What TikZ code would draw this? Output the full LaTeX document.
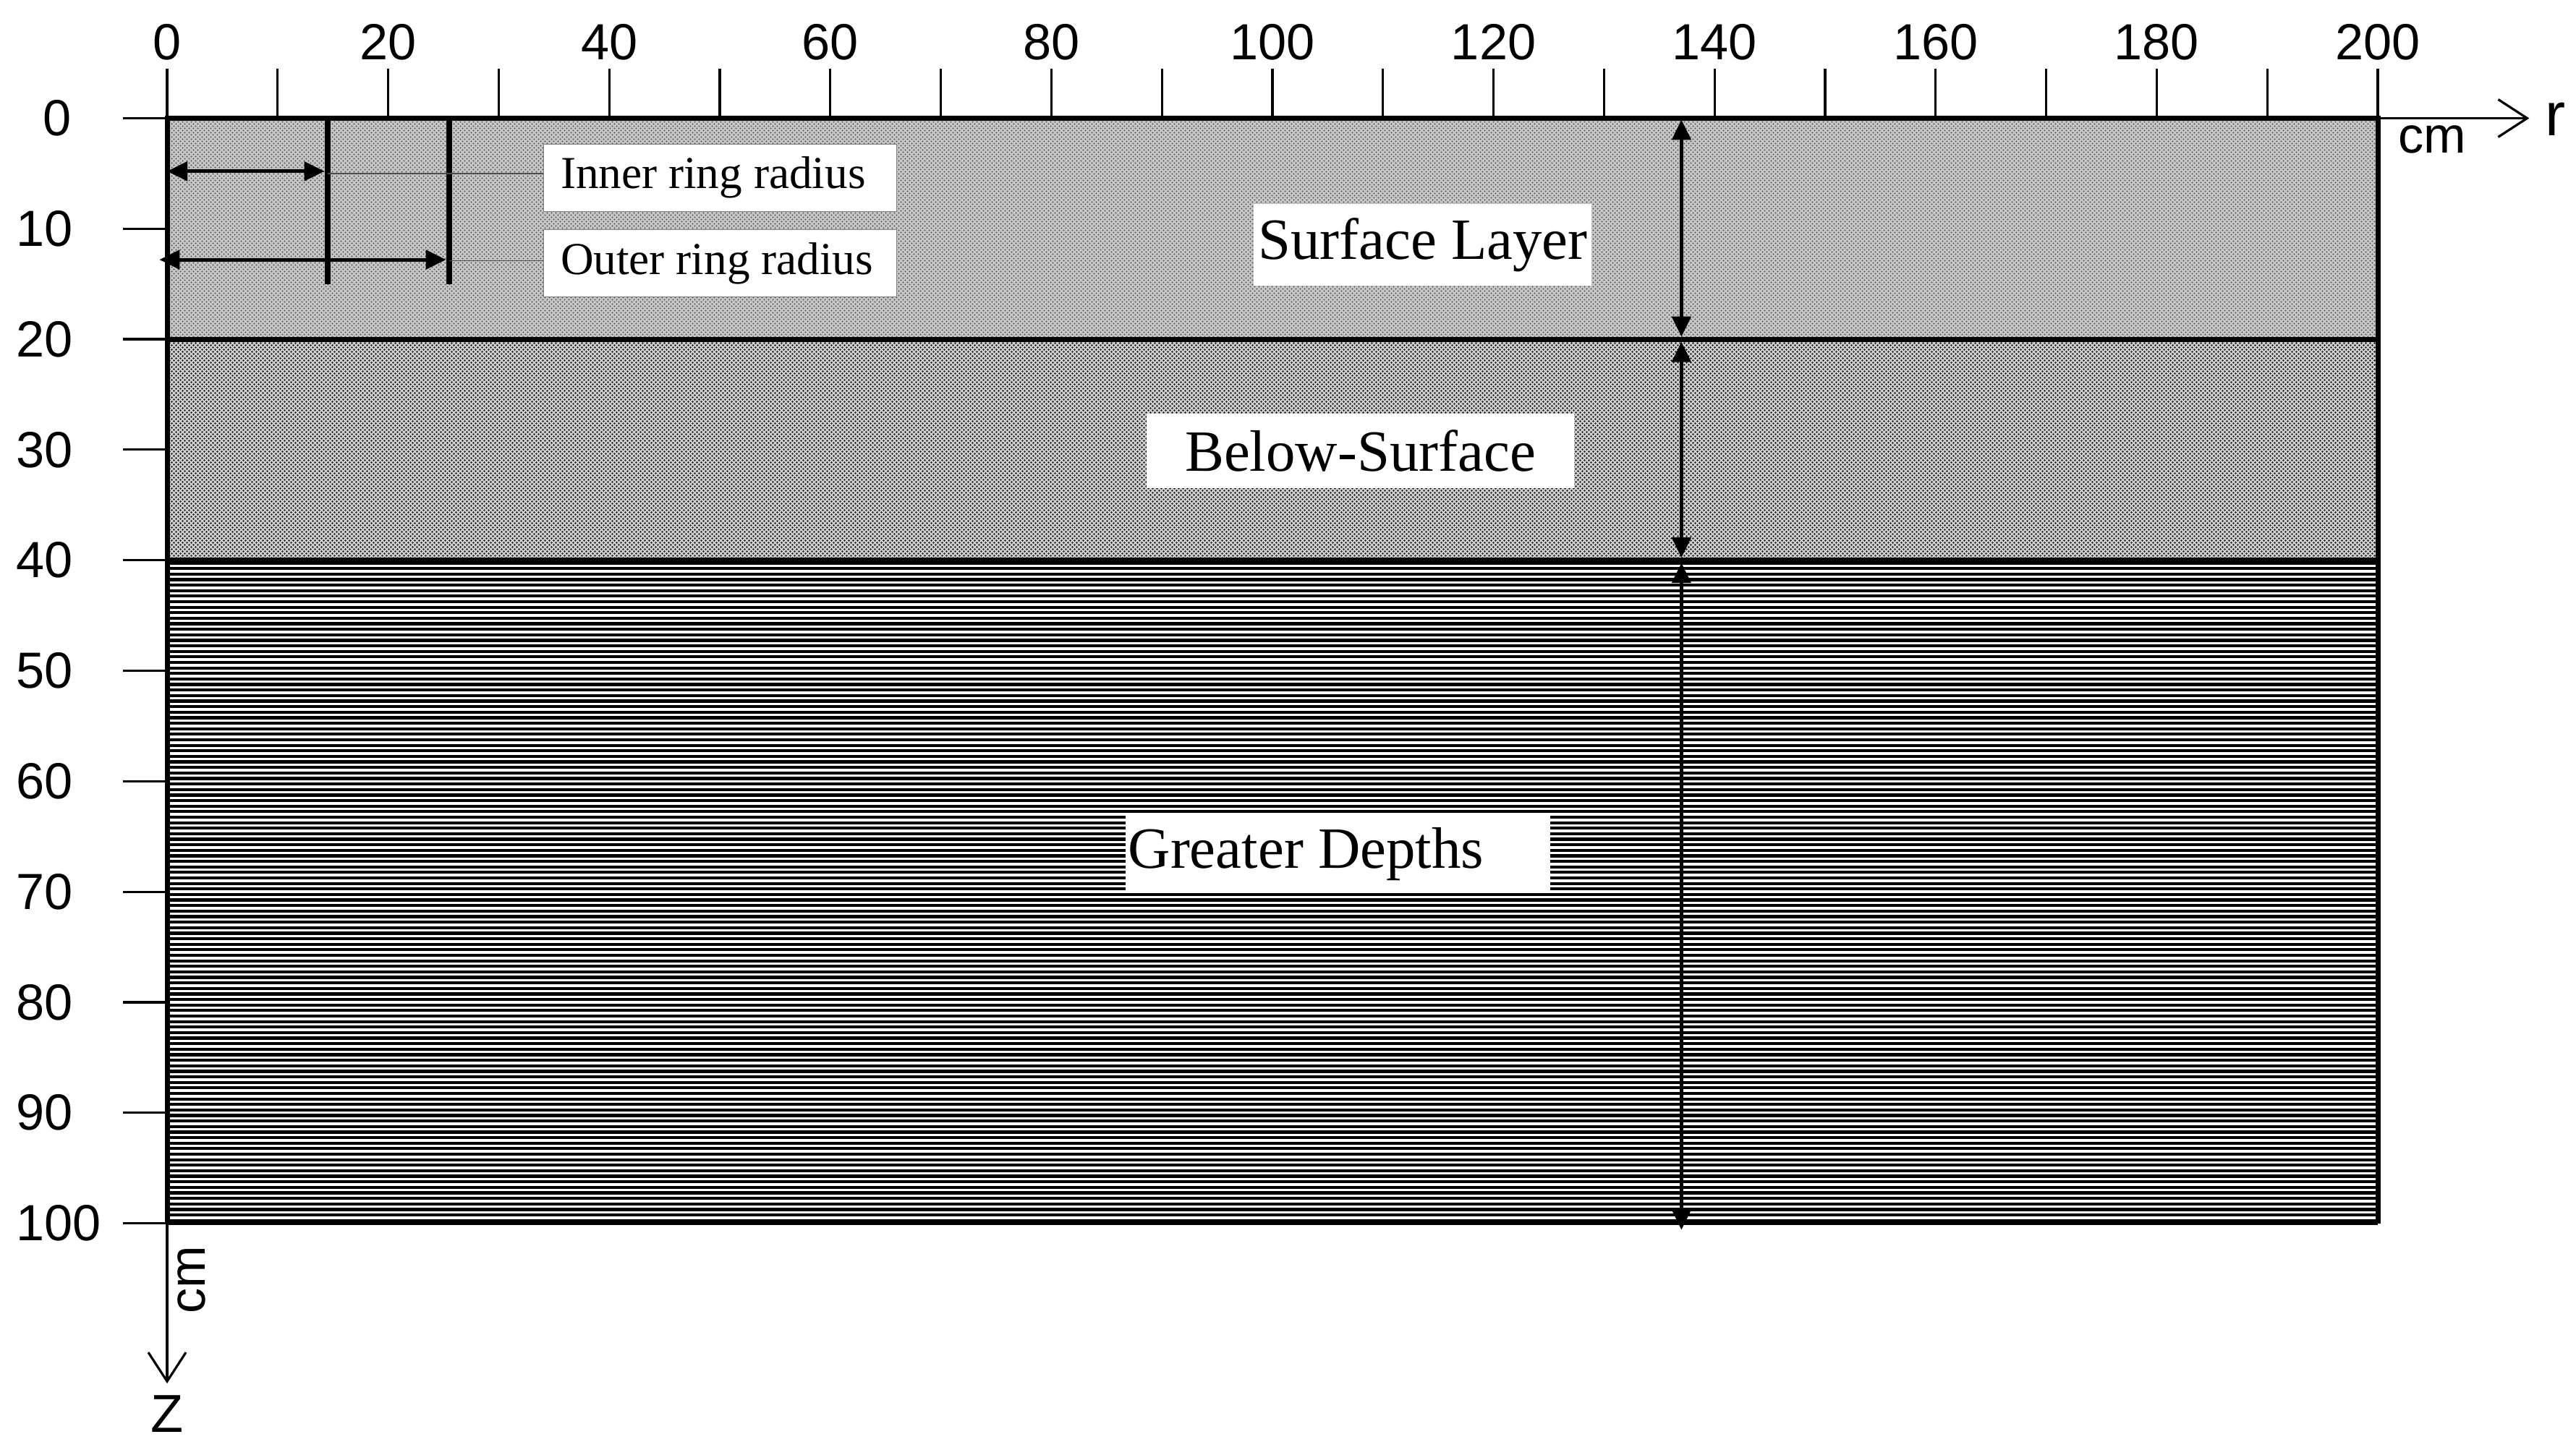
\documentclass[tikz,border=0pt]{standalone}
\usepackage{fontspec}
\setmainfont{Liberation Serif}
\newfontfamily\axfont{Liberation Sans}
\usetikzlibrary{arrows.meta,patterns}
\definecolor{surfbg}{HTML}{C6C6C6}
\definecolor{surfdot}{HTML}{555555}
\definecolor{belowbg}{HTML}{CFCFCF}
\definecolor{belowdot}{HTML}{1A1A1A}
\pgfdeclarepatternformonly{surfdots}{\pgfpointorigin}{\pgfpoint{0.06cm}{0.06cm}}{\pgfpoint{0.06cm}{0.06cm}}{%
  \pgfpathcircle{\pgfpoint{0.015cm}{0.015cm}}{0.012cm}%
  \pgfpathcircle{\pgfpoint{0.045cm}{0.045cm}}{0.012cm}%
  \pgfusepath{fill}}
\pgfdeclarepatternformonly{belowdots}{\pgfpointorigin}{\pgfpoint{0.06cm}{0.06cm}}{\pgfpoint{0.06cm}{0.06cm}}{%
  \pgfpathcircle{\pgfpoint{0.015cm}{0.015cm}}{0.014cm}%
  \pgfpathcircle{\pgfpoint{0.045cm}{0.045cm}}{0.014cm}%
  \pgfusepath{fill}}
\begin{document}
\begin{tikzpicture}[
  boxline/.style={line width=0.07cm},
  axisline/.style={line width=0.032cm},
  tickline/.style={line width=0.032cm},
  dimarrow/.style={line width=0.05cm, {Triangle[length=0.28cm,width=0.26cm]}-{Triangle[length=0.28cm,width=0.26cm]}},
  openarrow/.style={axisline, -{Straight Barb[length=0.4cm,width=0.52cm]}},
  ringline/.style={line width=0.08cm},
  leader/.style={line width=0.015cm, black!70},
  ticklabel/.style={font=\axfont\fontsize{20}{24}\selectfont, inner sep=0pt},
  layerlabel/.style={fill=white, font=\fontsize{23}{27}\selectfont, inner sep=0pt},
  ringlabel/.style={fill=white, draw=black!50, line width=0.01cm, font=\fontsize{18}{22}\selectfont, inner sep=0pt, minimum width=4.88cm, minimum height=0.93cm},
  hatchline/.style={line width=0.042cm}
]
\useasboundingbox (0,0) rectangle (35.61,20.11);
\begin{scope}[shift={(2.31,18.475)}, x=0.1528cm, y=-0.1528cm]
  % layer fills
  \fill[surfbg] (0,0) rectangle (200,20);
  \fill[pattern=surfdots, pattern color=surfdot] (0,0) rectangle (200,20);
  \fill[belowbg] (0,20) rectangle (200,40);
  \fill[pattern=belowdots, pattern color=belowdot] (0,20) rectangle (200,40);
  \fill[white] (0,40) rectangle (200,100);
  \foreach \k in {0,...,119} \draw[hatchline] (0,{40.25+0.5*\k}) -- (200,{40.25+0.5*\k});
  % box borders and layer boundaries
  \draw[boxline] (0,100) -- (0,0) -- (200,0) -- (200,100);
  \draw[line width=0.045cm] (0,100) -- (200,100);
  \draw[boxline] (0,20) -- (200,20);
  \draw[boxline] (0,40) -- (200,40);
  % axes
  \coordinate (c200) at (200,0);
  \coordinate (rend) at (213.7,0);
  \draw[openarrow] (c200) -- (rend);
  \coordinate (z100) at (0,100);
  \coordinate (zend) at (0,114.5);
  \draw[openarrow] (z100) -- (zend);
  % ticks
  \foreach \x in {0,10,...,200} \draw[tickline] (\x,0) -- (\x,-4.5);
  \foreach \x in {0,20,...,200} \node[ticklabel, anchor=base] (tx\x) at (\x,-5.33) {\x};
  \foreach \y in {0,10,...,100} \draw[tickline] (-4,\y) -- (0,\y);
  \node[ticklabel, anchor=west] (ty0) at (-11.3,0) {0};
  \foreach \y in {10,20,...,100} \node[ticklabel, anchor=west] (ty\y) at (-13.7,\y) {\y};
  % axis labels
  \node[font=\axfont\fontsize{24}{28}\selectfont, inner sep=0pt, anchor=base west] (rlab) at (215.1,1.6) {r};
  \node[ticklabel, anchor=base west] (cmr) at (201.8,3.17) {cm};
  \node[font=\axfont\fontsize{21}{25}\selectfont, inner sep=0pt, anchor=base] (zlab) at (0,118.9) {Z};
  \node[ticklabel, rotate=90] (cmz) at (2.2,105.1) {cm};
  % depth arrows
  \coordinate (s0) at (137,0);
  \coordinate (s20) at (137,20);
  \coordinate (s40) at (137,40);
  \coordinate (s100) at (137,100.6);
  \draw[dimarrow, shorten <=0.02cm, shorten >=0.035cm] (s0) -- (s20);
  \draw[dimarrow, shorten <=0.035cm, shorten >=0.035cm] (s20) -- (s40);
  \draw[dimarrow, shorten <=0.035cm] (s40) -- (s100);
  % ring lines and radius arrows
  \coordinate (ri0) at (14.5,0);
  \coordinate (ri1) at (14.5,15);
  \coordinate (ro0) at (25.5,0);
  \coordinate (ro1) at (25.5,15);
  \draw[ringline] (ri0) -- (ri1);
  \draw[ringline] (ro0) -- (ro1);
  \coordinate (ia0) at (0,4.8);
  \coordinate (ia1) at (14.5,4.8);
  \coordinate (oa0) at (-0.7,12.8);
  \coordinate (oa1) at (25.5,12.8);
  \draw[dimarrow, shorten >=0.04cm] (ia0) -- (ia1);
  \draw[dimarrow, shorten >=0.04cm] (oa0) -- (oa1);
  % ring labels
  \node[ringlabel] (ib) at (50.0,5.37) {\makebox[4.4cm][l]{Inner ring radius}};
  \node[ringlabel] (ob) at (50.0,13.12) {\makebox[4.4cm][l]{Outer ring radius}};
  \coordinate (il) at (14.5,5.0);
  \coordinate (ol) at (25.5,12.9);
  \draw[leader] (il) -- (il -| ib.west);
  \draw[leader] (ol) -- (ol -| ob.west);
  % layer labels
  \node[layerlabel, minimum width=4.67cm, minimum height=1.13cm] (surf) at (113.6,11.45) {Surface Layer};
  \node[layerlabel, minimum width=5.91cm, minimum height=1.03cm] (bsurf) at (107.95,30.1) {Below-Surface};
  \node[layerlabel, minimum width=5.87cm, minimum height=1.08cm] (gd) at (105.9,66.6) {\makebox[5.79cm][l]{Greater Depths}};
\end{scope}
\end{tikzpicture}
\end{document}
